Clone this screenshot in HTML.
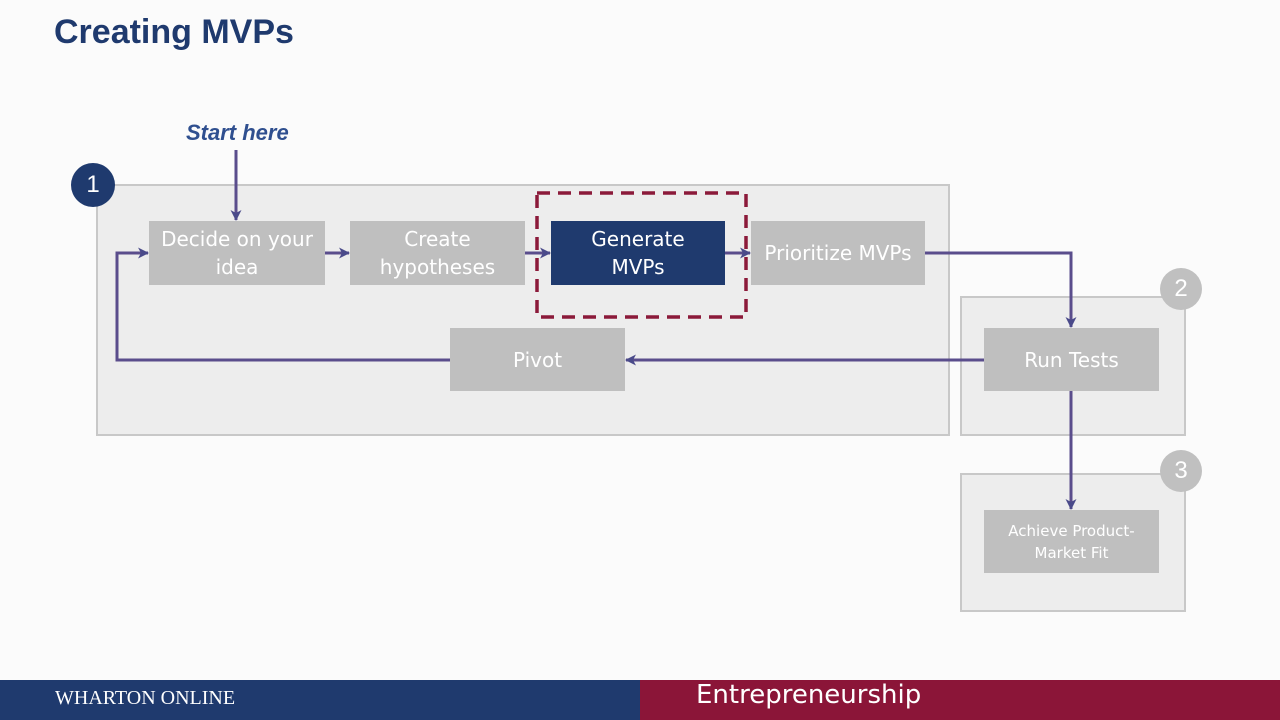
<!DOCTYPE html>
<html><head><meta charset="utf-8"><style>
body{margin:0;width:1280px;height:720px;background:#fbfbfb;position:relative;overflow:hidden;font-family:"Liberation Sans",sans-serif}
.a{position:absolute}
.panel{position:absolute;background:#ededed;border:2px solid #c8c8c8;box-sizing:border-box}
.box{position:absolute;background:#bfbfbf;color:#fff;display:flex;align-items:center;justify-content:center;text-align:center;font-size:20px;line-height:28px;font-family:"DejaVu Sans","Liberation Sans",sans-serif;box-sizing:border-box}
.circ{position:absolute;border-radius:50%;color:#fff;display:flex;align-items:center;justify-content:center;font-size:24px}
</style></head><body>
<div class="a" style="left:54px;top:13px;font-size:34px;font-weight:bold;color:#1f3a6e">Creating MVPs</div>
<div class="a" style="left:186px;top:120px;font-size:22px;font-weight:bold;font-style:italic;color:#2f4f8f">Start here</div>
<div class="panel" style="left:96px;top:184px;width:854px;height:252px"></div>
<div class="panel" style="left:960px;top:296px;width:226px;height:140px"></div>
<div class="panel" style="left:960px;top:473px;width:226px;height:139px"></div>
<div class="circ" style="left:71px;top:163px;width:44px;height:44px;background:#1f3a6e">1</div>
<div class="circ" style="left:1160px;top:268px;width:42px;height:42px;background:#c0c0c0">2</div>
<div class="circ" style="left:1160px;top:450px;width:42px;height:42px;background:#c0c0c0">3</div>
<svg class="a" style="left:535px;top:191px" width="214" height="129"><rect x="2" y="2" width="209" height="124" fill="none" stroke="#8b1a3a" stroke-width="3.5" stroke-dasharray="13,8"/></svg>
<div class="box" style="left:149px;top:221px;width:176px;height:64px">Decide on your<br>idea</div>
<div class="box" style="left:350px;top:221px;width:175px;height:64px">Create<br>hypotheses</div>
<div class="box" style="left:551px;top:221px;width:174px;height:64px;background:#1f3a6e">Generate<br>MVPs</div>
<div class="box" style="left:751px;top:221px;width:174px;height:64px">Prioritize MVPs</div>
<div class="box" style="left:450px;top:328px;width:175px;height:63px">Pivot</div>
<div class="box" style="left:984px;top:328px;width:175px;height:63px">Run Tests</div>
<div class="box" style="left:984px;top:510px;width:175px;height:63px;font-size:15px;line-height:22px">Achieve Product-<br>Market Fit</div>
<svg class="a" style="left:0;top:0" width="1280" height="720">
<defs><marker id="m" markerWidth="11" markerHeight="11" refX="10" refY="5.5" orient="auto" markerUnits="userSpaceOnUse"><path d="M0,0 L11,5.5 L0,11 L3,5.5 z" fill="#4a4a8a"/></marker></defs>
<g stroke="#5a4d8c" stroke-width="3" fill="none" marker-end="url(#m)">
<path d="M236,150 V220"/>
<path d="M325,253 H349"/>
<path d="M525,253 H550"/>
<path d="M725,253 H750"/>
<path d="M925,253 H1071 V327"/>
<path d="M984,360 H626"/>
<path d="M450,360 H117 V253 H148"/>
<path d="M1071,391 V509"/>
</g></svg>
<div class="a" style="left:0;top:680px;width:640px;height:40px;background:#1f3a6e"></div>
<div class="a" style="left:640px;top:680px;width:640px;height:40px;background:#8b1538"></div>
<div class="a" style="left:55px;top:687px;color:#fff;font-family:'Liberation Serif',serif;font-size:20px">WHARTON ONLINE</div>
<div class="a" style="left:696px;top:680px;color:#fff;font-family:'DejaVu Sans',sans-serif;font-size:26px">Entrepreneurship</div>
</body></html>
